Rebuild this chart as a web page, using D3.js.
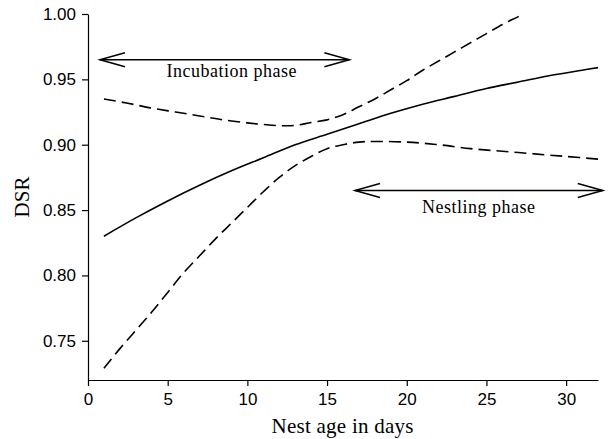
<!DOCTYPE html>
<html>
<head>
<meta charset="utf-8">
<script src="https://cdn.jsdelivr.net/npm/d3@7"></script>
<style>
  body { margin: 0; background: #fff; }
  .tick text { font-family: "Liberation Sans", Arial, sans-serif; font-size: 17px; fill: #000; }
  .axis path, .axis line { stroke: #000; stroke-width: 1.2; }
  .title { font-family: "Liberation Serif", "Times New Roman", serif; fill: #000; }
</style>
</head>
<body>
<div id="chart"></div>
<script>
// fitted daily survival rate (solid line)
const ages = [1, 3, 5, 7, 9, 11, 13, 15, 17, 19, 21, 23, 25, 27, 29, 31, 32];
const dsr = [0.830, 0.844, 0.857, 0.869, 0.880, 0.890, 0.900, 0.908, 0.916, 0.924,
  0.931, 0.937, 0.943, 0.948, 0.953, 0.957, 0.959];

// upper confidence limit (dashed)
const upperAges = [1, 2.5, 4, 5.5, 7, 8.5, 10, 11, 12, 13, 14, 15, 16, 17, 18, 19,
  20, 21, 22, 23, 24, 25, 26, 27, 27.3];
const upperDsr = [0.935, 0.9317, 0.928, 0.925, 0.922, 0.919, 0.9167, 0.9155, 0.9146,
  0.9148, 0.917, 0.919, 0.923, 0.929, 0.935, 0.942, 0.949, 0.957, 0.964, 0.971,
  0.978, 0.985, 0.992, 0.998, 1.0];

// lower confidence limit (dashed)
const lowerAges = [1, 2, 3, 4, 5, 6, 7, 8, 9, 10, 11, 12, 13, 14, 15, 16, 17, 18,
  20, 22, 24, 26, 28, 30, 32];
const lowerDsr = [0.729, 0.744, 0.758, 0.772, 0.787, 0.802, 0.815, 0.828, 0.840,
  0.852, 0.864, 0.875, 0.884, 0.891, 0.897, 0.900, 0.902, 0.9025, 0.902, 0.900,
  0.897, 0.895, 0.893, 0.891, 0.889];

// phase arrows
const phaseNames = ['Incubation phase', 'Nestling phase'];
const phaseStart = [0.75, 16.75];
const phaseEnd = [16.4, 32.3];
const phaseLevel = [0.965, 0.865];
const phaseLabelX = [9.0, 24.5];
const phaseLabelY = [0.9516, 0.8476];

const xTicks = [0, 5, 10, 15, 20, 25, 30];
const yTicks = [0.75, 0.80, 0.85, 0.90, 0.95, 1.00];

// dimensions
const width = 616;
const height = 439;
const margin = { top: 14, right: 18, bottom: 59, left: 88 };

const x = d3.scaleLinear()
  .domain([0, 32])
  .range([margin.left, width - margin.right]);

const y = d3.scaleLinear()
  .domain([0.72, 1.0])
  .range([height - margin.bottom, margin.top]);

const svg = d3.select('#chart')
  .append('svg')
  .attr('width', width)
  .attr('height', height);

// axes
svg.append('g')
  .attr('class', 'axis')
  .attr('transform', `translate(0, ${height - margin.bottom})`)
  .call(d3.axisBottom(x).tickValues(xTicks).tickSize(6).tickSizeOuter(0).tickPadding(7));

svg.append('g')
  .attr('class', 'axis')
  .attr('transform', `translate(${margin.left}, 0)`)
  .call(d3.axisLeft(y).tickValues(yTicks).tickFormat(d3.format('.2f'))
    .tickSize(6).tickSizeOuter(0).tickPadding(6));

// curves
const line = d3.line()
  .x(d => x(d[0]))
  .y(d => y(d[1]))
  .curve(d3.curveCatmullRom);

svg.append('path')
  .attr('d', line(d3.zip(ages, dsr)))
  .attr('fill', 'none')
  .attr('stroke', '#000')
  .attr('stroke-width', 1.6);

[[upperAges, upperDsr], [lowerAges, lowerDsr]].forEach(([xs, ys]) => {
  svg.append('path')
    .attr('d', line(d3.zip(xs, ys)))
    .attr('fill', 'none')
    .attr('stroke', '#000')
    .attr('stroke-width', 1.6)
    .attr('stroke-dasharray', '12,6');
});

// phase arrows + labels
phaseNames.forEach((name, i) => {
  const x0 = x(phaseStart[i]);
  const x1 = x(phaseEnd[i]);
  const yy = y(phaseLevel[i]);
  const g = svg.append('g')
    .attr('fill', 'none')
    .attr('stroke', '#000')
    .attr('stroke-width', 1.5);
  g.append('line').attr('x1', x0).attr('x2', x1).attr('y1', yy).attr('y2', yy);
  g.append('path').attr('d', `M${x0 + 25},${yy - 7}L${x0},${yy}L${x0 + 25},${yy + 7}`);
  g.append('path').attr('d', `M${x1 - 25},${yy - 7}L${x1},${yy}L${x1 - 25},${yy + 7}`);

  svg.append('text')
    .attr('class', 'title')
    .attr('x', x(phaseLabelX[i]))
    .attr('y', y(phaseLabelY[i]))
    .attr('text-anchor', 'middle')
    .style('font-size', '18px')
    .attr('textLength', i === 0 ? 130 : 113)
    .text(name);
});

// axis titles
svg.append('text')
  .attr('class', 'title')
  .attr('x', 342.5)
  .attr('y', 433)
  .attr('text-anchor', 'middle')
  .style('font-size', '21px')
  .attr('textLength', 142)
  .text('Nest age in days');

svg.append('text')
  .attr('class', 'title')
  .attr('transform', `translate(29, ${(margin.top + height - margin.bottom) / 2}) rotate(-90)`)
  .attr('text-anchor', 'middle')
  .style('font-size', '21px')
  .text('DSR');
</script>
</body>
</html>
